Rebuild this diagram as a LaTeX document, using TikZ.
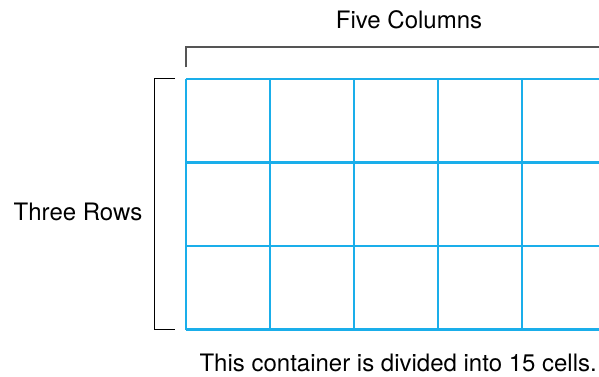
\documentclass[tikz,border=0pt]{standalone}
\usepackage{fontspec}
\setmainfont{TeX Gyre Heros}
\definecolor{gridblue}{HTML}{1AAEEA}
\definecolor{brackgray}{HTML}{555555}
\begin{document}
\begin{tikzpicture}[x=1pt,y=-1pt,
  gridline/.style={draw=gridblue,line width=2.6pt},
  lbl/.style={inner sep=0pt,anchor=base,font=\fontsize{24}{28}\selectfont}]
\useasboundingbox (0,0) rectangle (599,376);
\clip (0,0) rectangle (599,376);
% grid
\foreach \y in {79,162.5,246,329.5} \draw[gridline] (186,\y) -- (605,\y);
\foreach \x in {186,270,354,438,522} \draw[gridline] (\x,79) -- (\x,329.5);
% brackets
\coordinate (tb1) at (186,67.3);
\coordinate (tb2) at (186,46.7);
\coordinate (tb3) at (605,46.7);
\draw[brackgray,line width=1.6pt] (tb1) -- (tb2) -- (tb3);
\coordinate (lb1) at (175,78.3);
\coordinate (lb2) at (154.5,78.3);
\coordinate (lb3) at (154.5,329.3);
\coordinate (lb4) at (175,329.3);
\draw[black,line width=1.1pt] (lb1) -- (lb2) -- (lb3) -- (lb4);
% labels
\node[lbl] (cols) at (409,28) {Five Columns};
\node[lbl] (rows) at (78,220) {Three Rows};
\node[lbl,anchor=base east] (cap) at (597,371) {This container is divided into 15 cells.};
\end{tikzpicture}
\end{document}
